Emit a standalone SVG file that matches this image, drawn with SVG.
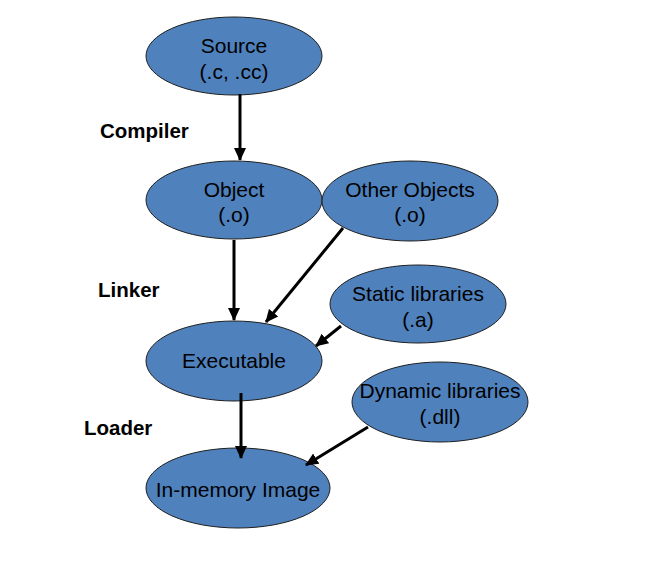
<svg xmlns="http://www.w3.org/2000/svg" width="660" height="574" viewBox="0 0 660 574">
<style>
.n ellipse{fill:#4f81bd;stroke:#1f1f1f;stroke-width:1}
.n text{font-family:"Liberation Sans",Arial,sans-serif;font-size:21px;fill:#000;text-anchor:middle}
.lbl{font-family:"Liberation Sans",Arial,sans-serif;font-size:20.5px;font-weight:bold;fill:#000}
.c line{stroke:#000;stroke-width:3;marker-end:url(#ah)}
</style>
<defs>
<marker id="ah" markerUnits="userSpaceOnUse" markerWidth="14" markerHeight="14" refX="12" refY="7" orient="auto">
<path d="M0,1 L13,7 L0,13 Z" fill="#000"/>
</marker>
</defs>
<rect width="660" height="574" fill="#fff"/>
<g id="source" class="n"><ellipse cx="234" cy="56" rx="88" ry="39"/><text x="234" y="53">Source</text><text x="234" y="79">(.c, .cc)</text></g>
<g id="object" class="n"><ellipse cx="234" cy="200" rx="88" ry="39"/><text x="234" y="197">Object</text><text x="234" y="222">(.o)</text></g>
<g id="other" class="n"><ellipse cx="410" cy="201" rx="88" ry="40"/><text x="410" y="197">Other Objects</text><text x="410" y="222">(.o)</text></g>
<g id="static" class="n"><ellipse cx="418" cy="304" rx="88" ry="39"/><text x="418" y="301">Static libraries</text><text x="418" y="327">(.a)</text></g>
<g id="exec" class="n"><ellipse cx="234" cy="361" rx="88" ry="40"/><text x="234" y="368">Executable</text></g>
<g id="dynamic" class="n"><ellipse cx="440" cy="402" rx="88" ry="40"/><text x="440" y="398">Dynamic libraries</text><text x="440" y="424">(.dll)</text></g>
<g id="image" class="n"><ellipse cx="238" cy="488" rx="92" ry="40"/><text x="238" y="497">In-memory Image</text></g>
<g class="c">
<line x1="240" y1="94" x2="240" y2="160"/>
<line x1="234" y1="240" x2="234" y2="320"/>
<line x1="343" y1="228" x2="266" y2="322"/>
<line x1="341" y1="326" x2="316" y2="346"/>
<line x1="241" y1="393" x2="241" y2="458"/>
<line x1="368" y1="427" x2="306" y2="465"/>
</g>
<text class="lbl" x="100" y="138">Compiler</text>
<text class="lbl" x="98" y="297">Linker</text>
<text class="lbl" x="84" y="435">Loader</text>
</svg>
